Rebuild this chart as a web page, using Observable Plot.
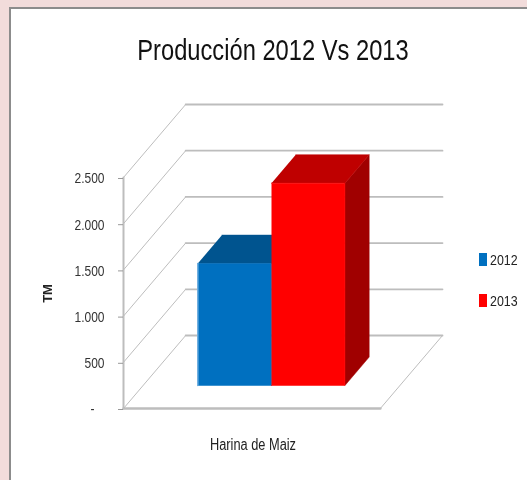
<!DOCTYPE html>
<html><head><meta charset="utf-8">
<script src="https://cdn.jsdelivr.net/npm/d3@7"></script>
<script src="https://cdn.jsdelivr.net/npm/@observablehq/plot@0.6"></script>
<style>
html,body{margin:0;padding:0;background:#f2dcdb;width:527px;height:480px;overflow:hidden}
#panel{position:absolute;left:9px;top:7px;width:530px;height:490px;background:#fff;border:2px solid #8c8c8c;box-sizing:border-box}
#chart{position:absolute;left:0;top:0;filter:blur(.35px)}
#title{position:absolute;left:0;top:33px;width:546px;text-align:center;font:30px "Liberation Sans",sans-serif;color:#111;transform:scaleX(.79);transform-origin:273px 0;filter:blur(.35px)}
.lg{position:absolute;left:479px;font:15.5px "Liberation Sans",sans-serif;color:#222;line-height:16px;white-space:nowrap;filter:blur(.3px)}
.lg i{position:absolute;left:0;top:1px;width:8px;height:13px}
.lg span{position:absolute;left:11px;top:0;transform:scaleX(.8);transform-origin:0 0}
</style></head><body>
<div id="panel"></div>
<div id="chart"></div>
<div id="title"></div>
<div id="legend"></div>
<script>
const chartTitle = "Producción 2012 Vs 2013";
const categories = ["Harina de Maiz"];
const series = ["2012", "2013"];
const values = [1320, 2190];
const ticks = [0, 500, 1000, 1500, 2000, 2500];
const yTitle = "TM";
const frontColors = ["#0070c0", "#ff0000"];
const topColors = ["#00548f", "#bf0000"];
const sideColors = ["#00477a", "#a00000"];

// 3-D projection of the chart box, in data units
const wallDx = 0.242, wallDy = 790;
const project = (x, v, d) => ({x: x + d * wallDx, y: v + d * wallDy});
const barEdges = [0.213, 0.5, 0.786];
const depthFront = 0.315, depthBack = 0.705;
const topV = 2500;

const lineStyle = {x: "x", y: "y", stroke: "#bdbdbd", strokeWidth: 1.5};
const marks = [];

// walls: one grid line per tick
for (const t of ticks) {
  marks.push(Plot.line([project(0, t, 0), project(0, t, 1)], {...lineStyle, strokeWidth: 1}));
  marks.push(Plot.line([project(0, t, 1), project(1, t, 1)], {...lineStyle, strokeWidth: 1.8}));
}
// floor
marks.push(Plot.line([project(1, 0, 0), project(1, 0, 1)], {...lineStyle, strokeWidth: 1}));
marks.push(Plot.line([project(0, 0, 0), project(1, 0, 0)], {...lineStyle, strokeWidth: 2.5}));
// value axis spine
marks.push(Plot.line([project(0, 0, 0), project(0, topV, 0)], {...lineStyle, strokeWidth: 2}));

// bars
values.forEach((v, i) => {
  const x0 = barEdges[i], x1 = barEdges[i + 1];
  const poly = (pts, fill) => Plot.line(pts, {x: "x", y: "y", fill, stroke: fill, strokeWidth: 0.5});
  marks.push(poly([project(x1, 0, depthFront), project(x1, 0, depthBack), project(x1, v, depthBack), project(x1, v, depthFront)], sideColors[i]));
  marks.push(poly([project(x0, v, depthFront), project(x1, v, depthFront), project(x1, v, depthBack), project(x0, v, depthBack)], topColors[i]));
  marks.push(poly([project(x0, 0, depthFront), project(x1, 0, depthFront), project(x1, v, depthFront), project(x0, v, depthFront)], frontColors[i]));
});
// pale highlight on the left edge of the first bar
marks.push(Plot.line([project(barEdges[0], 0, depthFront), project(barEdges[0], values[0], depthFront)], {x: "x", y: "y", stroke: "#6fb0e0", strokeWidth: 1.5}));

const narrow = '"Liberation Sans",sans-serif';
marks.push(Plot.axisY(ticks, {
  anchor: "left", label: null, tickSize: 5, tickPadding: 14, stroke: "#999",
  fill: "#333", fontSize: 15, fontFamily: narrow, dy: 1,
  tickFormat: d => d === 0 ? "-\u00a0\u00a0\u00a0" : d3.format(",")(d).replace(",", ".")
}));
// category and value-axis titles
marks.push(Plot.text(categories, {
  text: d => d, x: () => 0.504, y: () => -390, fontSize: 16, fontFamily: narrow, fill: "#222"
}));
marks.push(Plot.text([yTitle], {
  text: d => d, x: () => -0.293, y: () => 1245, rotate: -90, fontSize: 13, fontFamily: narrow, fontWeight: "bold", fill: "#222"
}));

const plot = Plot.plot({
  width: 527, height: 480,
  marginLeft: 123, marginRight: 85, marginTop: 104, marginBottom: 72,
  style: {background: "transparent", overflow: "visible"},
  x: {domain: [0, 1 + wallDx], axis: null},
  y: {domain: [0, topV + wallDy], axis: null},
  marks
});
document.getElementById("chart").append(plot);

// condense text: the reference uses a narrow face
plot.querySelectorAll("text").forEach(t => {
  if (t.textContent === yTitle) return;
  t.setAttribute("textLength", t.getComputedTextLength() * 0.8);
  t.setAttribute("lengthAdjust", "spacingAndGlyphs");
});

document.getElementById("title").textContent = chartTitle;
const lg = document.getElementById("legend");
series.forEach((s, i) => {
  const d = document.createElement("div");
  d.className = "lg";
  d.style.top = (252 + i * 41) + "px";
  d.innerHTML = `<i style="background:${frontColors[i]}"></i><span>${s}</span>`;
  lg.append(d);
});
</script>
</body></html>
